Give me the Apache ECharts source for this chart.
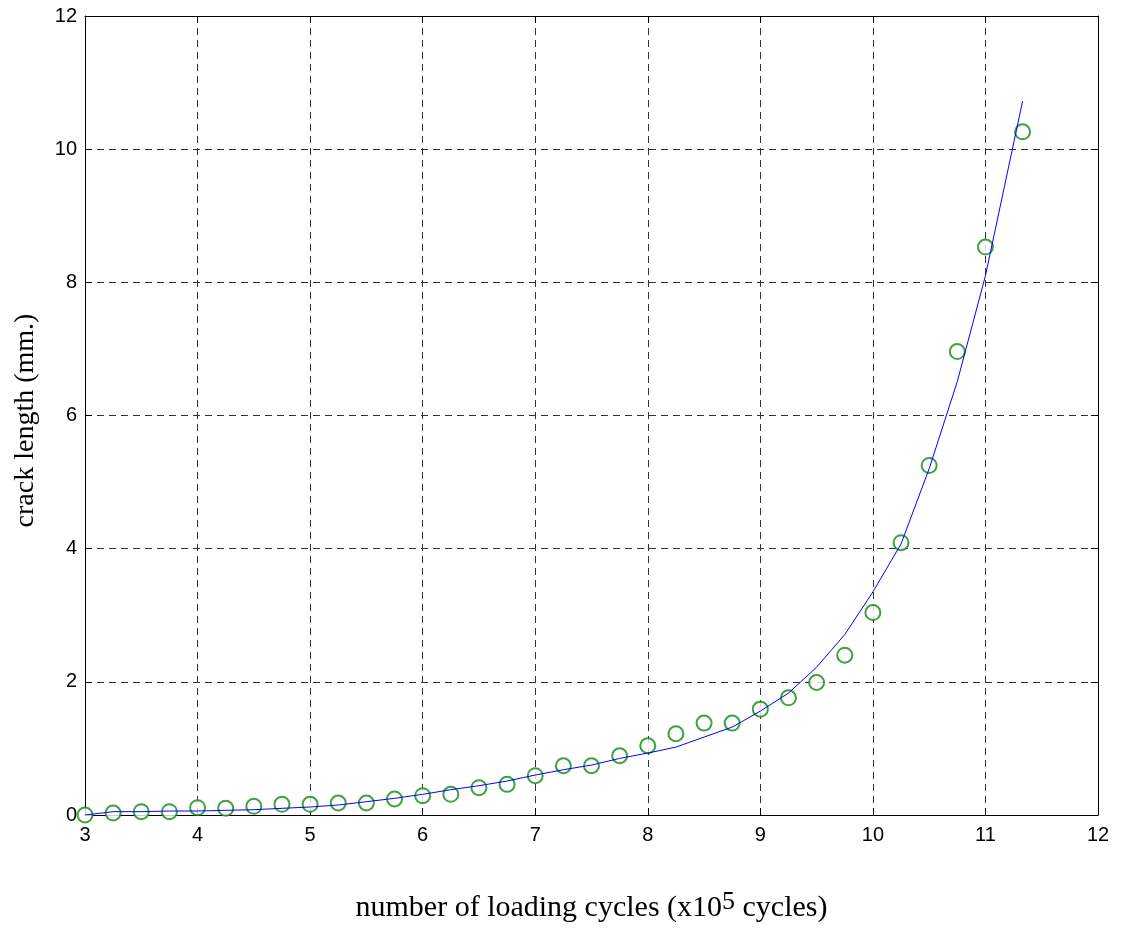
<!DOCTYPE html>
<html><head><meta charset="utf-8">
<script src="https://cdn.jsdelivr.net/npm/echarts@6/dist/echarts.min.js"></script>
<style>html,body{margin:0;padding:0;background:#fff}#c{width:1126px;height:943px}</style>
</head><body><div id="c"></div>
<script>
const cycles = [3,3.25,3.5,3.75,4,4.25,4.5,4.75,5,5.25,5.5,5.75,6,6.25,6.5,6.75,7,7.25,7.5,7.75,8,8.25,8.5,8.75,9,9.25,9.5,9.75,10,10.25,10.5,10.75,11,11.33];
const measured = [0,0.03,0.05,0.05,0.11,0.1,0.13,0.16,0.16,0.18,0.18,0.24,0.29,0.31,0.41,0.46,0.59,0.74,0.74,0.89,1.04,1.22,1.38,1.38,1.59,1.76,1.99,2.40,3.04,4.09,5.25,6.96,8.53,10.26];
const fitted = [0,0.05,0.05,0.06,0.06,0.07,0.08,0.10,0.12,0.15,0.20,0.25,0.31,0.38,0.44,0.51,0.60,0.68,0.75,0.85,0.93,1.02,1.17,1.32,1.56,1.83,2.22,2.71,3.35,4.07,5.20,6.51,8.10,10.72];
const xTicks = [3,4,5,6,7,8,9,10,11,12];
const yTicks = [0,2,4,6,8,10,12];

const chart = echarts.init(document.getElementById('c'), null, {renderer:'canvas'});
const tickFont = {fontFamily:'Liberation Sans, Arial, sans-serif', fontSize:20, color:'#000'};
const gridLine = {show:true, lineStyle:{color:'#333', type:[7,5], width:1}};
const serif = 'Liberation Serif, Times New Roman, serif';
chart.setOption({
  animation:false,
  grid:{left:85, right:28, top:16, bottom:128, containLabel:false},
  xAxis:[{
    type:'value', min:3, max:12, interval:1, position:'bottom',
    axisLine:{show:true, onZero:false, lineStyle:{color:'#000', width:1}},
    axisTick:{show:true, inside:true, length:7, lineStyle:{color:'#000'}},
    axisLabel:Object.assign({margin:10}, tickFont),
    splitLine:gridLine,
    name:'{a|number of loading cycles (x10}{s|5}{a| cycles)}',
    nameLocation:'middle', nameGap:74,
    nameTextStyle:{rich:{
      a:{fontFamily:serif, fontSize:30, color:'#000', verticalAlign:'bottom', lineHeight:34},
      s:{fontFamily:serif, fontSize:26, color:'#000', verticalAlign:'top', lineHeight:34, padding:[0,0,10,0]}
    }}
  },{
    type:'value', min:3, max:12, interval:1, position:'top',
    axisLine:{show:true, onZero:false, lineStyle:{color:'#000', width:1}},
    axisTick:{show:true, inside:true, length:7, lineStyle:{color:'#000'}},
    axisLabel:{show:false}, splitLine:{show:false}
  }],
  yAxis:[{
    type:'value', min:0, max:12, interval:2, position:'left',
    axisLine:{show:true, onZero:false, lineStyle:{color:'#000', width:1}},
    axisTick:{show:true, inside:true, length:7, lineStyle:{color:'#000'}},
    axisLabel:Object.assign({margin:8}, tickFont),
    splitLine:gridLine,
    name:'crack length (mm.)', nameLocation:'middle', nameGap:45, nameRotate:90,
    nameTextStyle:{fontFamily:serif, fontSize:28, color:'#000', padding:[0,10,0,0]}
  },{
    type:'value', min:0, max:12, interval:2, position:'right',
    axisLine:{show:true, onZero:false, lineStyle:{color:'#000', width:1}},
    axisTick:{show:true, inside:true, length:7, lineStyle:{color:'#000'}},
    axisLabel:{show:false}, splitLine:{show:false}
  }],
  series:[{
    type:'scatter', xAxisIndex:0, yAxisIndex:0,
    data:cycles.map((x,i)=>[x,measured[i]]),
    symbol:'emptyCircle', symbolSize:15,
    itemStyle:{color:'#108a10', borderColor:'#108a10', borderWidth:1},
    z:3
  },{
    type:'line', xAxisIndex:0, yAxisIndex:0,
    data:cycles.map((x,i)=>[x,fitted[i]]),
    showSymbol:false, symbol:'none',
    lineStyle:{color:'#0000ff', width:1},
    z:4
  }]
});
</script></body></html>
